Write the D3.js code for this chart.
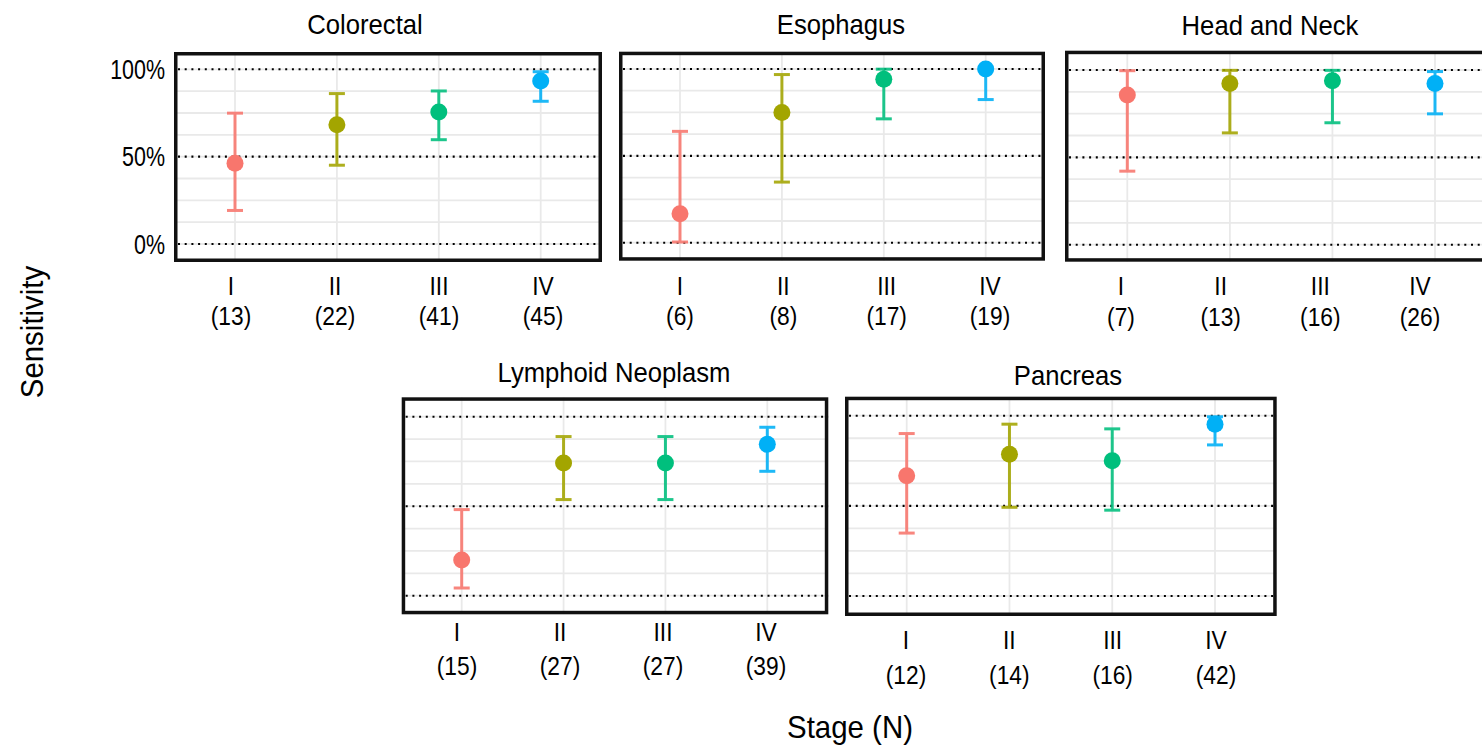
<!DOCTYPE html>
<html>
<head>
<meta charset="utf-8">
<script src="https://cdn.jsdelivr.net/npm/d3@7"></script>
<style>
  html, body { margin: 0; padding: 0; background: #fff; }
  svg { display: block; }
  text { font-family: "Liberation Sans", Arial, sans-serif; fill: #000; }
</style>
</head>
<body>
<svg id="chart" width="1482" height="747"></svg>
<script>
// Sensitivity by cancer type and stage, with 95% confidence intervals
const cancerTypes = ["Colorectal", "Esophagus", "Head and Neck", "Lymphoid Neoplasm", "Pancreas"];
const stages = ["I", "II", "III", "IV"];
const stageN = [
  [13, 22, 41, 45],
  [6, 8, 17, 19],
  [7, 13, 16, 26],
  [15, 27, 27, 39],
  [12, 14, 16, 42]
];
const sensitivity = [
  [46.2, 68.2, 75.6, 93.3],
  [16.7, 75.0, 94.1, 100],
  [85.7, 92.3, 93.8, 92.3],
  [20.0, 74.1, 74.1, 84.6],
  [66.7, 78.6, 75.0, 95.2]
];
const ciLower = [
  [19.2, 45.1, 59.7, 81.7],
  [0.4, 34.9, 71.3, 82.4],
  [42.1, 64.0, 69.8, 74.9],
  [4.3, 53.7, 53.7, 69.5],
  [34.9, 49.2, 47.6, 83.8]
];
const ciUpper = [
  [74.9, 86.1, 87.6, 98.6],
  [64.1, 96.8, 99.9, 100],
  [99.6, 99.8, 99.8, 99.1],
  [48.1, 88.9, 88.9, 94.1],
  [90.1, 95.3, 92.7, 99.4]
];
const yTickLabels = ["0%", "50%", "100%"];
const yTickValues = [0, 50, 100];
const stageColors = ["#F8766D", "#A3A500", "#00BF7D", "#00B0F6"];

// Panel placement on the page
const layout = [
  { box: [174, 52, 602, 262], y0: 244, y100: 69.3, grid: [235, 540.7], lab: [231, 543], title: [365, 34], labY: [295, 325], yAxis: true },
  { box: [619, 51.7, 1045, 260.7], y0: 242.7, y100: 69, grid: [680, 985.7], lab: [680, 990], title: [841, 34], labY: [295, 325] },
  { box: [1065, 50.7, 1495, 261.7], y0: 244.7, y100: 70, grid: [1127.3, 1435], lab: [1121, 1420], title: [1270, 35], labY: [295, 326] },
  { box: [401.7, 397.3, 828.3, 614.3], y0: 595.7, y100: 416.7, grid: [461.7, 767.3], lab: [457, 766], title: [614, 382], labY: [641, 675] },
  { box: [845, 396.7, 1276.7, 616], y0: 596, y100: 415.7, grid: [906.7, 1215], lab: [906, 1216], title: [1068, 385], labY: [649, 684] }
];

const svg = d3.select("#chart");

function label(g, x, y, s, size, sx, anchor, rot) {
  return g.append("text")
    .attr("transform", `translate(${x},${y})` + (rot ? ` rotate(${rot})` : "") + ` scale(${sx},1)`)
    .attr("font-size", size)
    .attr("text-anchor", anchor || "middle")
    .text(s);
}

cancerTypes.forEach((name, p) => {
  const L = layout[p];
  const [bx0, by0, bx1, by1] = L.box;
  const g = svg.append("g");

  const x = d3.scalePoint().domain(stages).range(L.grid);
  const xLab = d3.scalePoint().domain(stages).range(L.lab);
  const y = d3.scaleLinear().domain([0, 100]).range([L.y0, L.y100]);

  const clipId = "clip" + p;
  g.append("clipPath").attr("id", clipId)
    .append("rect").attr("x", bx0).attr("y", by0).attr("width", bx1 - bx0).attr("height", by1 - by0);
  const inner = g.append("g").attr("clip-path", `url(#${clipId})`);

  // light grid
  inner.selectAll("line.hg").data(d3.range(0, 100.01, 12.5)).join("line")
    .attr("x1", bx0).attr("x2", bx1)
    .attr("y1", d => y(d)).attr("y2", d => y(d))
    .attr("stroke", "#e9e9e9").attr("stroke-width", 1.8);
  inner.selectAll("line.vg").data(stages).join("line")
    .attr("x1", d => x(d)).attr("x2", d => x(d))
    .attr("y1", by0).attr("y2", by1)
    .attr("stroke", "#e9e9e9").attr("stroke-width", 1.8);

  // dotted reference lines
  inner.selectAll("line.ref").data(yTickValues).join("line")
    .attr("x1", bx0 + 4).attr("x2", bx1)
    .attr("y1", d => y(d)).attr("y2", d => y(d))
    .attr("stroke", "#000").attr("stroke-width", 2.1)
    .attr("stroke-dasharray", "2,4.7");

  // error bars and points
  stages.forEach((s, i) => {
    const cx = x(s), col = stageColors[i];
    const eb = inner.append("g").attr("stroke", col).attr("stroke-width", 3).attr("opacity", 0.88);
    eb.append("line").attr("x1", cx).attr("x2", cx)
      .attr("y1", y(ciLower[p][i])).attr("y2", y(ciUpper[p][i]));
    [ciLower[p][i], ciUpper[p][i]].forEach(v => {
      eb.append("line").attr("x1", cx - 8).attr("x2", cx + 8)
        .attr("y1", y(v)).attr("y2", y(v));
    });
    inner.append("circle").attr("cx", cx).attr("cy", y(sensitivity[p][i]))
      .attr("r", 8.5).attr("fill", col);
  });

  // panel frame
  g.append("rect")
    .attr("x", bx0 + 1.75).attr("y", by0 + 1.75)
    .attr("width", bx1 - bx0 - 3.5).attr("height", by1 - by0 - 3.5)
    .attr("fill", "none").attr("stroke", "#111").attr("stroke-width", 3.5);

  // title
  label(g, L.title[0], L.title[1], name, 28.5, 0.9);

  // stage labels with counts
  stages.forEach((s, i) => {
    label(g, xLab(s), L.labY[0], s, 26.5, 0.86);
    label(g, xLab(s), L.labY[1], "(" + stageN[p][i] + ")", 26.5, 0.86);
  });

  if (L.yAxis) {
    yTickValues.forEach((v, k) => {
      label(g, 165, y(v) + 9.5, yTickLabels[k], 27.5, 0.78, "end");
    });
  }
});

// axis titles
label(svg, 850, 738, "Stage (N)", 31, 0.95);
label(svg, 43, 332, "Sensitivity", 31, 0.95, "middle", -90);
</script>
</body>
</html>
